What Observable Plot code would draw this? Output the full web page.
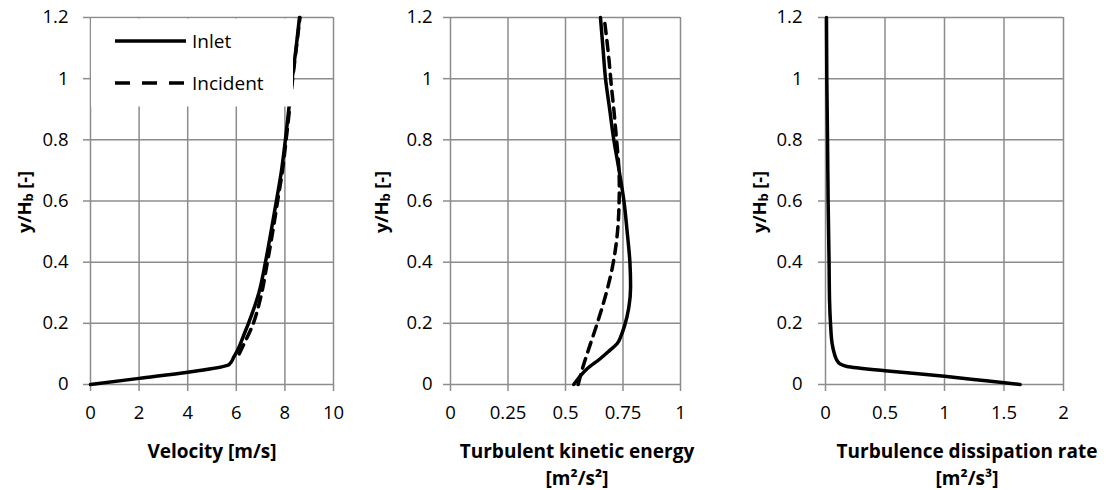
<!DOCTYPE html>
<html><head><meta charset="utf-8">
<script src="https://cdn.jsdelivr.net/npm/d3@7"></script>
<script src="https://cdn.jsdelivr.net/npm/@observablehq/plot@0.6"></script>
<style>
body{margin:0;background:#fff;}
#row{display:flex;width:1107px;height:490px;}
</style>
</head><body><div id="row"></div>
<script>
// ---- data ----
const yTicks = [0, 0.2, 0.4, 0.6, 0.8, 1, 1.2];

const velTicks = [0, 2, 4, 6, 8, 10];
const velInletY = [0, 0.02, 0.04, 0.065, 0.09, 0.12, 0.16, 0.2, 0.3, 0.4, 0.5, 0.6, 0.7, 0.8, 0.9, 1.0, 1.1, 1.2];
const velInletX = [0, 2, 4, 5.7, 5.9, 6.1, 6.3, 6.5, 6.93, 7.2, 7.43, 7.65, 7.86, 8.02, 8.16, 8.3, 8.46, 8.6];
const velIncY = [0.1, 0.12, 0.2, 0.28, 0.4, 0.5, 0.6, 0.7, 0.8, 0.9, 1.0, 1.1, 1.2];
const velIncX = [6.12, 6.24, 6.7, 6.99, 7.28, 7.5, 7.7, 7.9, 8.05, 8.19, 8.32, 8.47, 8.62];

const tkeTicks = [0, 0.25, 0.5, 0.75, 1];
const tkeInletY = [0, 0.05, 0.085, 0.11, 0.134, 0.16, 0.19, 0.25, 0.32, 0.4, 0.5, 0.6, 0.7, 0.8, 0.9, 1.0, 1.1, 1.2];
const tkeInletX = [0.536, 0.592, 0.652, 0.69, 0.725, 0.742, 0.756, 0.775, 0.783, 0.78, 0.768, 0.754, 0.733, 0.71, 0.692, 0.674, 0.663, 0.652];
const tkeIncY = [0, 0.05, 0.1, 0.2, 0.29, 0.38, 0.47, 0.57, 0.65, 0.72, 0.8, 0.9, 0.98, 1.07, 1.2];
const tkeIncX = [0.555, 0.573, 0.594, 0.638, 0.674, 0.703, 0.722, 0.732, 0.734, 0.731, 0.722, 0.71, 0.699, 0.688, 0.668];

const epsTicks = [0, 0.5, 1, 1.5, 2];
const epsInletY = [0, 0.012, 0.027, 0.045, 0.059, 0.068, 0.078, 0.1, 0.133, 0.2, 0.275, 0.4, 0.6, 0.8, 1.0, 1.2];
const epsInletX = [1.635, 1.35, 1.0, 0.5, 0.18, 0.12, 0.098, 0.075, 0.056, 0.042, 0.034, 0.03, 0.022, 0.017, 0.011, 0.008];

const seriesNames = ["Inlet", "Incident"];
const yTitle = ["y/H", "b", " [-]"];
const xTitles = [["Velocity [m/s]"], ["Turbulent kinetic energy", "[m²/s²]"], ["Turbulence dissipation rate", "[m²/s³]"]];

// ---- helpers ----
const FONT = "'Open Sans', sans-serif";
const GRID = "#8c8c8c";
const TICKFONT = "18.5px";
const fmt = d => String(d);
const toRows = (xs, ys) => xs.map((x, i) => ({x, y: ys[i]}));

function panel(cfg) {
  const marks = [
    Plot.gridX(cfg.xTicks, {stroke: GRID, strokeOpacity: 1, strokeWidth: 1.5}),
    Plot.gridY(yTicks, {stroke: GRID, strokeOpacity: 1, strokeWidth: 1.5}),
    Plot.axisX(cfg.xTicks, {tickSize: 7, tickPadding: 14, tickFormat: fmt, stroke: GRID, strokeWidth: 1.5, fill: "black", label: null}),
    Plot.axisY(yTicks, {tickSize: 7, tickPadding: cfg.yPad, tickFormat: fmt, stroke: GRID, strokeWidth: 1.5, fill: "black", label: null})
  ];
  if (cfg.inc) marks.push(Plot.line(cfg.inc, {x: "x", y: "y", stroke: "black", strokeWidth: 3.5, strokeDasharray: "10,7", curve: "monotone-y"}));
  marks.push(Plot.line(cfg.inlet, {x: "x", y: "y", stroke: "black", strokeWidth: 3.5, curve: "monotone-y"}));
  const svg = Plot.plot({
    width: 369, height: 490,
    marginLeft: cfg.ml, marginRight: cfg.mr, marginTop: 17, marginBottom: 106,
    style: {fontFamily: FONT, color: "black", background: "white", overflow: "visible"},
    x: {domain: cfg.xDomain},
    y: {domain: [0, 1.2]},
    marks
  });
  const s = d3.select(svg);
  s.selectAll("text").style("font-size", TICKFONT, "important").style("font-family", FONT, "important");
  // y title with subscript
  const t = s.append("text")
    .attr("transform", `translate(${cfg.yLabX},202) rotate(-90)`)
    .attr("text-anchor", "middle")
    .attr("dominant-baseline", "central")
    .attr("font-family", FONT).attr("font-weight", "bold").attr("font-size", 18).attr("fill", "black");
  t.append("tspan").text(yTitle[0]);
  t.append("tspan").text(yTitle[1]).attr("font-size", 13).attr("dy", 4);
  t.append("tspan").text(yTitle[2]).attr("dy", -4);
  // x title
  cfg.titles.forEach((line, i) => {
    s.append("text").attr("x", cfg.titleX).attr("y", 458 + i * 27)
      .attr("text-anchor", "middle")
      .attr("font-family", FONT).attr("font-weight", "bold").attr("font-size", 19).attr("fill", "black")
      .text(line);
  });
  return svg;
}

const row = document.getElementById("row");

const p1 = panel({ml: 90, mr: 36, xDomain: [0, 10], xTicks: velTicks, yPad: 15, yLabX: 24,
  inlet: toRows(velInletX, velInletY), inc: toRows(velIncX, velIncY), titles: xTitles[0], titleX: 212});
// legend
const lg = d3.select(p1).append("g");
lg.append("rect").attr("x", 91).attr("y", 18.5).attr("width", 202).attr("height", 88).attr("fill", "white");
lg.append("line").attr("x1", 115).attr("x2", 186).attr("y1", 41).attr("y2", 41).attr("stroke", "black").attr("stroke-width", 3.5);
lg.append("line").attr("x1", 115).attr("x2", 186).attr("y1", 83).attr("y2", 83).attr("stroke", "black").attr("stroke-width", 3.5).attr("stroke-dasharray", "15,12");
[seriesNames[0], seriesNames[1]].forEach((n, i) => {
  lg.append("text").attr("x", 192).attr("y", 41 + i * 42).attr("dominant-baseline", "central")
    .attr("text-anchor", "start")
    .attr("font-family", FONT).attr("font-size", 19).attr("fill", "black").text(n);
});
row.appendChild(p1);

row.appendChild(panel({ml: 81, mr: 58, xDomain: [0, 1], xTicks: tkeTicks, yPad: 11, yLabX: 12,
  inlet: toRows(tkeInletX, tkeInletY), inc: toRows(tkeIncX, tkeIncY), titles: xTitles[1], titleX: 208}));

row.appendChild(panel({ml: 87, mr: 44, xDomain: [0, 2], xTicks: epsTicks, yPad: 16, yLabX: 21,
  inlet: toRows(epsInletX, epsInletY), inc: null, titles: xTitles[2], titleX: 229}));
</script></body></html>
